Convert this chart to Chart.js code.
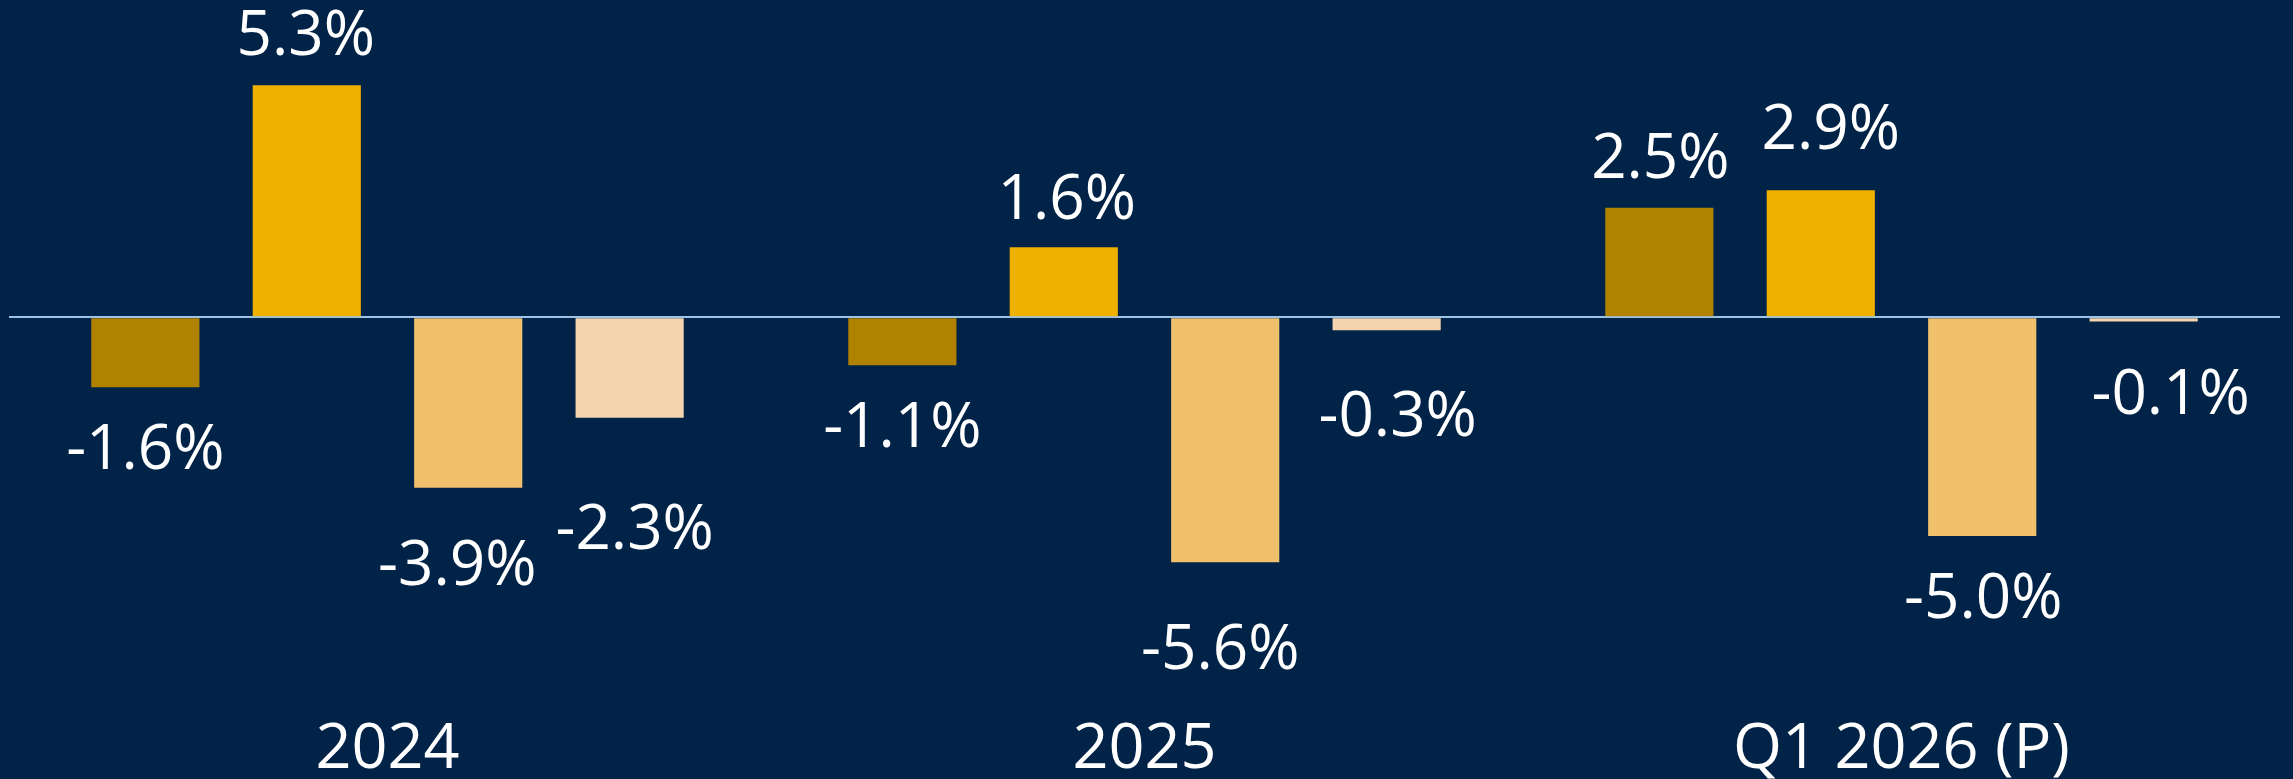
<!DOCTYPE html>
<html>
<head>
<meta charset="utf-8">
<script src="https://cdn.jsdelivr.net/npm/chart.js@4.4.1/dist/chart.umd.min.js"></script>
<style>
    html, body { margin: 0; padding: 0; background: #002347; overflow: hidden; }
    #wrap { width: 2293px; height: 779px; }
</style>
</head>
<body>
<div id="wrap"><canvas id="chart" width="2293" height="779"></canvas></div>
<script>
// values, in %
const periods = ["2024", "2025", "Q1 2026 (P)"];
const seriesA = [-1.6, -1.1, 2.5];
const seriesB = [5.3, 1.6, 2.9];
const seriesC = [-3.9, -5.6, -5.0];
const seriesD = [-2.3, -0.3, -0.1];

const BG_COLOR = "#002347";
const ZERO_LINE_COLOR = "#9dc3e6";
const TEXT_COLOR = "#ffffff";
const FONT_FAMILY = "'Open Sans', 'Noto Sans', sans-serif";
const FONT_WEIGHT = 400;

// distance from bar end to label centre, and sideways shift, per bar (px)
const labelGap = [
    [60, 60, 52],
    [52, 50, 63],
    [75, 85, 60],
    [109, 84, 70],
];
const labelShift = [
    [0, 0, 1],
    [-1, 3, 10],
    [-11, -5, 1],
    [5, 11, 27],
];

const backgroundPlugin = {
    id: "background",
    beforeDraw: function (chart) {
        const ctx = chart.ctx;
        ctx.save();
        ctx.fillStyle = BG_COLOR;
        ctx.fillRect(0, 0, chart.width, chart.height);
        ctx.restore();
    },
};

const valueLabelPlugin = {
    id: "valueLabels",
    afterDatasetsDraw: function (chart) {
        const ctx = chart.ctx;
        const size = 62;
        ctx.save();
        ctx.font = FONT_WEIGHT + " " + size + "px " + FONT_FAMILY;
        ctx.fillStyle = TEXT_COLOR;
        ctx.textAlign = "center";
        ctx.textBaseline = "alphabetic";
        chart.data.datasets.forEach(function (dataset, di) {
            const meta = chart.getDatasetMeta(di);
            meta.data.forEach(function (bar, i) {
                const v = dataset.data[i];
                const gap = labelGap[di][i];
                const centreY = v >= 0 ? bar.y - gap : bar.y + gap;
                const baseline = centreY + size * 0.357;
                ctx.fillText(v.toFixed(1) + "%", bar.x + labelShift[di][i], baseline);
            });
        });
        ctx.restore();
    },
};

new Chart(document.getElementById("chart"), {
    type: "bar",
    data: {
        labels: periods,
        datasets: [
            { data: seriesA, backgroundColor: "#b08200" },
            { data: seriesB, backgroundColor: "#eeb100" },
            { data: seriesC, backgroundColor: "#f0c06c" },
            { data: seriesD, backgroundColor: "#f5d5ae" },
        ],
    },
    options: {
        responsive: false,
        animation: false,
        devicePixelRatio: 1,
        categoryPercentage: 0.853,
        barPercentage: 0.67,
        layout: {
            padding: { left: 9, right: 13, top: 0, bottom: 0 },
        },
        plugins: {
            legend: { display: false },
            tooltip: { enabled: false },
        },
        scales: {
            x: {
                grid: { display: false },
                border: { display: false },
                ticks: {
                    color: TEXT_COLOR,
                    padding: 15,
                    font: { family: FONT_FAMILY, size: 63, weight: FONT_WEIGHT },
                },
                afterFit: function (scale) {
                    scale.height = 90;
                },
            },
            y: {
                min: -8.5,
                max: 7.25,
                border: { display: false },
                ticks: { display: false, stepSize: 1 },
                grid: {
                    drawTicks: false,
                    lineWidth: 2,
                    color: function (ctx) {
                        return ctx.tick && ctx.tick.value === 0 ? ZERO_LINE_COLOR : "rgba(0,0,0,0)";
                    },
                },
            },
        },
    },
    plugins: [backgroundPlugin, valueLabelPlugin],
});
</script>
</body>
</html>
